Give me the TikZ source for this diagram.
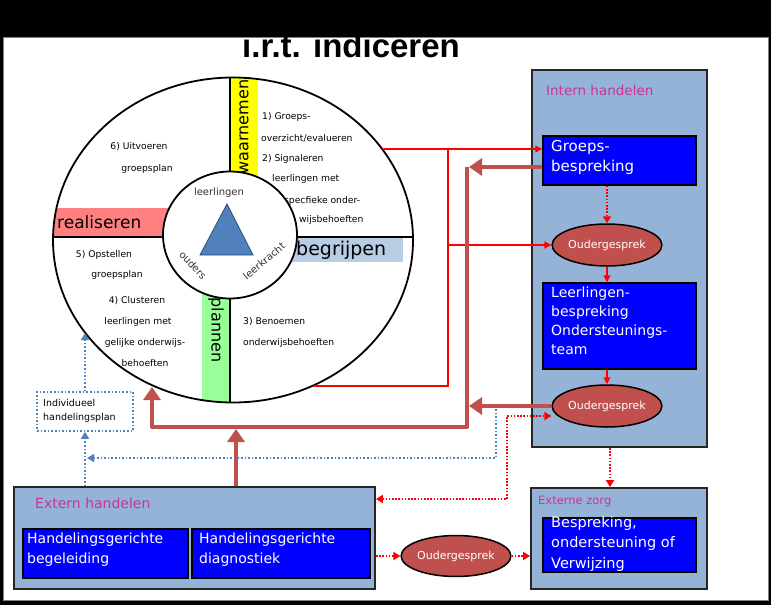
\documentclass[tikz,border=0pt]{standalone}
\usepackage{fontspec}
\setmainfont{DejaVu Sans}
\newfontfamily\titlefont{Liberation Sans}
\usetikzlibrary{shapes.geometric,arrows.meta,calc}
\definecolor{boxblue}{RGB}{149,179,215}
\definecolor{deepblue}{RGB}{0,0,255}
\definecolor{brick}{RGB}{192,80,77}
\definecolor{steel}{RGB}{79,129,189}
\definecolor{pinkt}{RGB}{204,51,153}
\definecolor{bandred}{RGB}{255,128,128}
\definecolor{bandblue}{RGB}{184,204,228}
\definecolor{bandgreen}{RGB}{153,255,153}
\definecolor{bandyellow}{RGB}{255,255,0}
\tikzset{
  outerbox/.style={draw=black!85, line width=1.8pt, fill=boxblue, inner sep=0pt},
  bluebox/.style={draw=black, line width=1.5pt, fill=deepblue, inner sep=0pt},
  oval/.style={ellipse, draw=black, line width=1.5pt, fill=brick, text=white, inner sep=0pt, font=\fontsize{11}{11}\selectfont},
  boxtext/.style={anchor=north west, inner sep=0pt, text=white, align=left},
  circtext/.style={inner sep=0pt, font=\fontsize{9.2}{9.2}\selectfont, text=black},
  innertext/.style={inner sep=0pt, font=\fontsize{10}{10}\selectfont, text=black!80},
  headtext/.style={anchor=west, inner sep=0pt, text=pinkt},
  bandtext/.style={inner sep=0pt, text=black},
  thinred/.style={draw=red, line width=1.5pt, -{Triangle[length=7pt,width=7pt]}},
  thinline/.style={draw=red, line width=1.5pt},
  thickline/.style={draw=brick, line width=4pt, line join=round},
  thickarrow/.style={thickline, -{Triangle[length=13pt,width=17pt]}},
  reddot/.style={draw=red, line width=2pt, dash pattern=on 1.6pt off 1.6pt},
  bluedot/.style={draw=steel, line width=1.6pt, dash pattern=on 1.6pt off 2pt},
  smalltip/.style={-{Triangle[length=7pt,width=8pt]}},
}
\begin{document}
\begin{tikzpicture}[x=1pt,y=-1pt]
\useasboundingbox (0,0) rectangle (771,605);
% background
\fill[black] (0,0) rectangle (771,605);
\draw[fill=white, draw=black!50, line width=1pt] (3,37) rectangle (768,600);
% title
\node[font=\titlefont\bfseries\fontsize{33}{33}\selectfont, anchor=base, inner sep=0pt] (title) at (351,57) {i.r.t. indiceren};
\fill[black] (0,0) rectangle (771,36.5);

% ---- circle ----
\begin{scope}
\clip (233,240) ellipse [x radius=180pt, y radius=162.5pt];
\fill[bandyellow] (230,60) rectangle (258,200);
\fill[bandred] (40,208) rectangle (200,237);
\fill[bandblue] (260,237) rectangle (403,262);
\fill[bandgreen] (202,262) rectangle (230,420);
\draw[line width=1.6pt] (230,60) -- (230,420);
\draw[line width=1.2pt] (40,237) -- (420,237);
\end{scope}
\node[ellipse, draw=black, line width=1.8pt, minimum width=360pt, minimum height=325pt, inner sep=0pt] (outer) at (233,240) {};

\node[bandtext, rotate=90, font=\fontsize{16}{16}\selectfont] (waar) at (244,127) {waarnemen};
\node[bandtext, anchor=west, font=\fontsize{17}{17}\selectfont] (real) at (57,222) {realiseren};
\node[bandtext, anchor=west, font=\fontsize{19}{19}\selectfont] (begr) at (296,250) {begrijpen};
\node[bandtext, rotate=-90, font=\fontsize{16}{16}\selectfont] (plan) at (216,330) {plannen};

\node[circtext, anchor=west] (t1a) at (262,117) {1) Groeps-};
\node[circtext, anchor=west] (t1b) at (261,138) {overzicht/evalueren};
\node[circtext, anchor=west] (t2a) at (262,159) {2) Signaleren};
\node[circtext, anchor=west] (t2b) at (272,179) {leerlingen met};
\node[circtext, anchor=west] (t2c) at (284,201) {specfieke onder-};
\node[circtext, anchor=west] (t2d) at (299,220) {wijsbehoeften};
\node[circtext] (t6a) at (139,147) {6) Uitvoeren};
\node[circtext] (t6b) at (147,169) {groepsplan};
\node[circtext] (t5a) at (104,255) {5) Opstellen};
\node[circtext] (t5b) at (117,275) {groepsplan};
\node[circtext] (t4a) at (137,301) {4) Clusteren};
\node[circtext] (t4b) at (138,322) {leerlingen met};
\node[circtext] (t4c) at (145,343) {gelijke onderwijs-};
\node[circtext] (t4d) at (145,363) {behoeften};
\node[circtext, anchor=west] (t3a) at (243,322) {3) Benoemen};
\node[circtext, anchor=west] (t3b) at (243,343) {onderwijsbehoeften};

% inner circle
\node[ellipse, draw=black, fill=white, line width=1.8pt, minimum width=134pt, minimum height=127pt, inner sep=0pt] (inner) at (230,235) {};
\draw[fill=steel, draw=steel!60!black, line width=0.8pt] (227,204) -- (253,255) -- (200,255) -- cycle;
\node[innertext] (ll) at (219,193) {leerlingen};
\node[innertext, rotate=-47] (oud) at (193,265) {ouders};
\node[innertext, rotate=40] (lk) at (264,261) {leerkracht};

% ---- Intern handelen ----
\node[outerbox, minimum width=175pt, minimum height=377pt] (intern) at (619.5,258.5) {};
\node[headtext, font=\fontsize{13.5}{13.5}\selectfont] (internt) at (546,90) {Intern handelen};
\node[bluebox, minimum width=153pt, minimum height=49pt] (groeps) at (619.5,160.5) {};
\node[boxtext, font=\fontsize{15}{20}\selectfont] (groepst) at (551,140) {Groeps-\\bespreking};
\node[oval, minimum width=104pt, minimum height=42pt] (oud1) at (607,245) {Oudergesprek};
\node[bluebox, minimum width=153pt, minimum height=86pt] (leer) at (619.5,326) {};
\node[boxtext, font=\fontsize{14}{18.8}\selectfont] (leert) at (551,287) {Leerlingen-\\bespreking\\Ondersteunings-\\team};
\node[oval, minimum width=104pt, minimum height=42pt] (oud2) at (607,406) {Oudergesprek};

% ---- Externe zorg ----
\node[outerbox, minimum width=176pt, minimum height=101pt] (externzorg) at (619,538.5) {};
\node[headtext, font=\fontsize{11.5}{11.5}\selectfont] (externzorgt) at (538,501) {Externe zorg};
\node[bluebox, minimum width=153pt, minimum height=54pt] (besp) at (619.5,545) {};
\node[boxtext, font=\fontsize{14.5}{20.5}\selectfont] (bespt) at (551,516) {Bespreking,\\ondersteuning of\\Verwijzing};

% ---- Extern handelen ----
\node[outerbox, minimum width=361pt, minimum height=102pt] (extern) at (194.5,538) {};
\node[headtext, font=\fontsize{14}{14}\selectfont] (externt) at (35,503) {Extern handelen};
\node[bluebox, minimum width=165pt, minimum height=49pt] (hgb) at (105.5,553.5) {};
\node[boxtext, font=\fontsize{14}{20}\selectfont] (hgbt) at (27,533) {Handelingsgerichte\\begeleiding};
\node[bluebox, minimum width=178pt, minimum height=49pt] (hgd) at (281,553.5) {};
\node[boxtext, font=\fontsize{14}{20}\selectfont] (hgdt) at (199,533) {Handelingsgerichte\\diagnostiek};

\node[oval, minimum width=106pt, minimum height=41pt] (oud3) at (456,556) {Oudergesprek};

% ---- Individueel handelingsplan ----
\node[bluedot, minimum width=96pt, minimum height=39pt, inner sep=0pt] (indiv) at (85,411.5) {};
\node[anchor=west, inner sep=0pt, align=left, font=\fontsize{9.5}{14}\selectfont] (indivt) at (43,411) {Individueel\\handelingsplan};

% ---- thin red connectors ----
\coordinate (ra) at (382,149);
\coordinate (rb) at (448,149);
\coordinate (rc) at (448,245);
\coordinate (rd) at (448,386);
\coordinate (re) at (313,386);
\draw[thinred] (ra) -- (ra -| groeps.west);
\draw[thinline] (rb) -- (rd) -- (re);
\draw[thinred] (rc) -- (oud1.west);
\draw[thinred] (oud1.south) -- (oud1.south |- leer.north);
\draw[thinred] (oud2.north |- leer.south) -- (oud2.north);

% ---- thick connectors ----
\coordinate (ta) at (467,167);
\coordinate (tatip) at (469,167);
\coordinate (tb) at (467,427);
\coordinate (tc) at (152,427);
\coordinate (td) at (152,387);
\coordinate (tf) at (236,429);
\draw[thickarrow] (tatip -| groeps.west) -- (tatip);
\draw[thickarrow] (ta) -- (tb) -- (tc) -- (td);
\draw[thickarrow] (oud2.west) -- (oud2.west -| tatip);
\draw[thickarrow] (extern.north -| tf) -- (tf);

% ---- blue dotted ----
\coordinate (ba) at (496,409);
\coordinate (bb) at (496,458);
\coordinate (bc) at (87,458);
\coordinate (bd) at (85,333);
\draw[bluedot, smalltip] (ba) -- (bb) -- (bc);
\draw[bluedot, smalltip] (extern.north -| indiv.south) -- (indiv.south);
\draw[bluedot, smalltip] (indiv.north) -- (bd);

% ---- red dotted ----
\coordinate (da) at (507,416);
\coordinate (db) at (507,499);
\coordinate (dz) at (610,0);
\draw[reddot, smalltip] (groeps.south -| oud1.north) -- (oud1.north);
\draw[reddot, {Triangle[length=7pt,width=8pt]}-{Triangle[length=7pt,width=8pt]}] (db -| extern.east) -- (db) -- (da) -- (da -| oud2.west);
\draw[reddot, smalltip] (intern.south -| dz) -- (externzorg.north -| dz);
\draw[reddot, smalltip] (extern.east |- oud3) -- (oud3.west);
\draw[reddot, smalltip] (oud3.east) -- (oud3 -| externzorg.west);
\end{tikzpicture}
\end{document}
